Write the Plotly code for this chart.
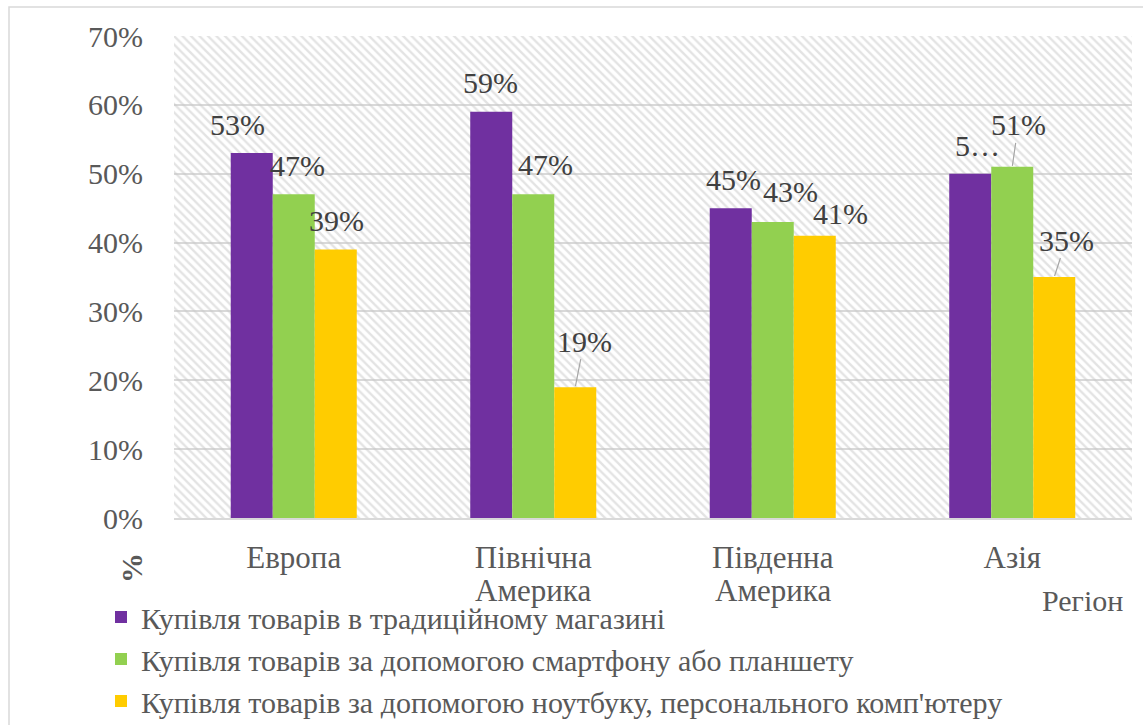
import plotly.graph_objects as go

# Regions (x-axis categories) and the three purchase channels
regions = ["Европа", "Північна Америка", "Південна Америка", "Азія"]
series_names = [
    "Купівля товарів в традиційному магазині",
    "Купівля товарів за допомогою смартфону або планшету",
    "Купівля товарів за допомогою ноутбуку, персонального комп'ютеру",
]
store = [0.53, 0.59, 0.45, 0.50]
mobile = [0.47, 0.47, 0.43, 0.51]
laptop = [0.39, 0.19, 0.41, 0.35]

# Displayed label text (the Asia store label is clipped in the layout)
store_text = ["53%", "59%", "45%", "5…"]
mobile_text = ["47%", "47%", "43%", "51%"]
laptop_text = ["39%", "19%", "41%", "35%"]

y_ticks = [0, 0.1, 0.2, 0.3, 0.4, 0.5, 0.6, 0.7]
y_ticktext = ["0%", "10%", "20%", "30%", "40%", "50%", "60%", "70%"]

colors = ["#7030A0", "#92D050", "#FFCC00"]
values = [store, mobile, laptop]
texts = [store_text, mobile_text, laptop_text]

# Label placement in pixels (dx, dy) relative to the bar top, plus leader-line flag
label_pos = [
    [(-14, -29, False), (-1, -29, False), (3, -29, False), (7, -28, False)],
    [(4, -29, False), (12, -30, False), (18, -30, False), (6, -42, True)],
    [(1, -29, False), (9, -46, True), (26, -22, False), (12, -37, True)],
]

FONT = "Liberation Serif"
TXT = "#595959"
LBL = "#404040"

# Plot-area geometry in pixels
W, H = 1143, 725
L, R, T, B = 174, 1132, 36, 518


def px_to_paper(px, py):
    return (px - L) / (R - L), (B - py) / (B - T)


bar_w = 0.1754
n = len(series_names)

fig = go.Figure()

# Hatched plot-area background
fig.add_trace(go.Bar(
    x=[1.5], y=[0.7], width=[4.0],
    marker=dict(color="rgba(0,0,0,0)", line=dict(width=0),
                pattern=dict(shape="\\", size=6, solidity=0.4,
                             fgcolor="#C8C8C8", bgcolor="rgba(0,0,0,0)")),
    showlegend=False, hoverinfo="skip",
))

xs = list(range(len(regions)))
for k in range(n):
    off = -n * bar_w / 2 + k * bar_w
    fig.add_trace(go.Bar(
        x=xs, y=values[k], name=series_names[k],
        width=bar_w, offset=off,
        marker=dict(color=colors[k], line=dict(width=0)),
    ))

annotations = []
for k in range(n):
    off = -n * bar_w / 2 + k * bar_w + bar_w / 2
    for i in range(len(regions)):
        dx, dy, leader = label_pos[k][i]
        common = dict(x=xs[i] + off, y=values[k][i], xref="x", yref="y",
                      text=texts[k][i], font=dict(family=FONT, size=30, color=LBL))
        if leader:
            annotations.append(dict(**common, showarrow=True, arrowhead=0,
                                    arrowwidth=1.2, arrowcolor="#A6A6A6",
                                    ax=dx, ay=dy, standoff=1))
        else:
            annotations.append(dict(**common, showarrow=False,
                                    xshift=dx, yshift=-dy, yanchor="middle"))

# Category labels: first word as tick label, the rest on a tighter second line
first_lines = [r.split(" ", 1)[0] for r in regions]
_, second_y = px_to_paper(0, 590)
for i, r in enumerate(regions):
    parts = r.split(" ", 1)
    if len(parts) > 1:
        annotations.append(dict(text=parts[1], x=xs[i], y=second_y,
                                xref="x", yref="paper", showarrow=False,
                                xanchor="center", yanchor="middle",
                                font=dict(family=FONT, size=31, color=TXT)))

# Axis titles
px, py = px_to_paper(131, 568)
annotations.append(dict(text="<b>%</b>", x=px, y=py,
                        xref="paper", yref="paper", showarrow=False,
                        xanchor="center", yanchor="middle",
                        textangle=-90, font=dict(family=FONT, size=30, color=TXT)))
px, py = px_to_paper(1082, 600)
annotations.append(dict(text="Регіон", x=px, y=py,
                        xref="paper", yref="paper", showarrow=False,
                        xanchor="center", yanchor="middle",
                        font=dict(family=FONT, size=30, color=TXT)))

bx0, by0 = px_to_paper(9, 740)
bx1, by1 = px_to_paper(1160, 7)

fig.update_layout(
    width=W, height=H,
    margin=dict(l=L, r=W - R, t=T, b=H - B, autoexpand=False),
    paper_bgcolor="white", plot_bgcolor="white",
    barmode="overlay",
    font=dict(family=FONT, color=TXT, size=30),
    annotations=annotations,
    shapes=[dict(type="rect", xref="paper", yref="paper",
                 x0=bx0, x1=bx1, y0=by0, y1=by1,
                 line=dict(color="#D9D9D9", width=1.5), fillcolor="rgba(0,0,0,0)",
                 layer="below")],
    legend=dict(
        xref="container", yref="container",
        x=101 / W, y=1 - 591 / H, xanchor="left", yanchor="top",
        orientation="v", tracegroupgap=0,
        font=dict(family=FONT, size=30, color=TXT),
        bgcolor="rgba(0,0,0,0)", itemclick=False,
    ),
    xaxis=dict(
        range=[-0.5, 3.5], tickvals=xs, ticktext=first_lines,
        showgrid=False, zeroline=False, showline=True,
        linecolor="#D9D9D9", linewidth=1.5,
        ticks="", ticklabelstandoff=11,
        tickfont=dict(family=FONT, size=31, color=TXT),
    ),
    yaxis=dict(
        range=[0, 0.7], tickvals=y_ticks, ticktext=y_ticktext,
        showgrid=True, gridcolor="#D9D9D9", gridwidth=1.5,
        zeroline=False, showline=False, ticks="",
        ticklabelstandoff=30,
        tickfont=dict(family=FONT, size=30, color=TXT),
    ),
)

fig.write_html("out.html")
